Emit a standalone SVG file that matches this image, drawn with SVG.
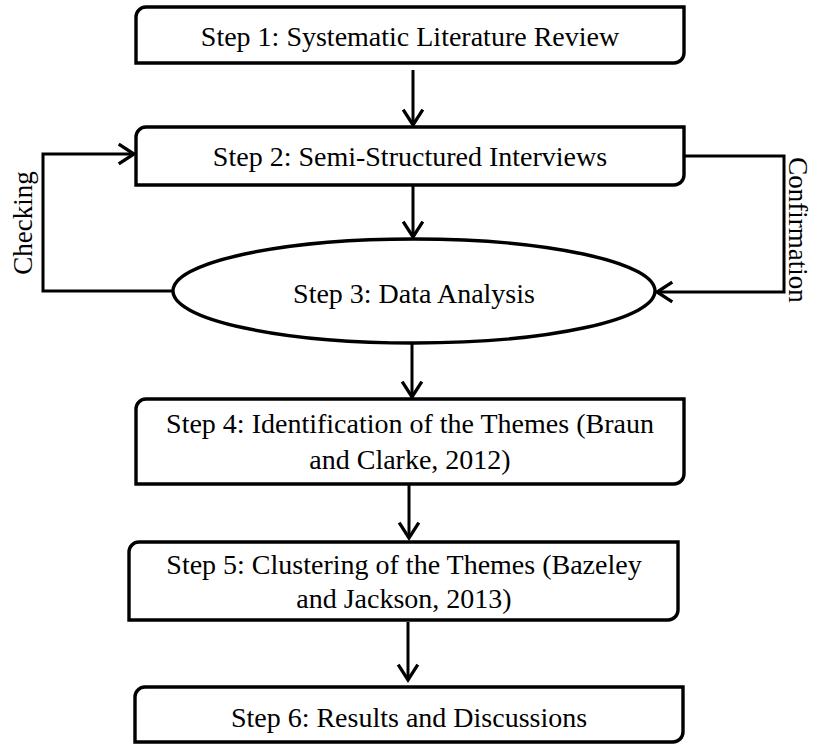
<svg xmlns="http://www.w3.org/2000/svg" width="814" height="744" viewBox="0 0 814 744">
<style>
.box{fill:#fff;stroke:#000;stroke-width:3.4}
.t{font-family:"Liberation Serif","Times New Roman",serif;font-size:28px;fill:#000;text-anchor:middle}
.s{font-family:"Liberation Serif","Times New Roman",serif;font-size:27px;fill:#000;text-anchor:middle}
.c{fill:none;stroke:#000;stroke-width:3}
</style>
<defs>
<marker id="ah" markerUnits="userSpaceOnUse" markerWidth="20" markerHeight="24" viewBox="-16 -11 18 22" refX="0" refY="0" orient="auto" overflow="visible">
<path d="M-14,-9 L0,0 L-14,9" fill="none" stroke="#000" stroke-width="3"/>
</marker>
</defs>
<rect width="814" height="744" fill="#fff"/>
<g id="connectors">
<line class="c" x1="413" y1="70" x2="413" y2="125" marker-end="url(#ah)"/>
<line class="c" x1="413" y1="186" x2="413" y2="237" marker-end="url(#ah)"/>
<line class="c" x1="412" y1="344" x2="412" y2="397" marker-end="url(#ah)"/>
<line class="c" x1="409" y1="485" x2="409" y2="538" marker-end="url(#ah)"/>
<line class="c" x1="408" y1="622" x2="408" y2="680" marker-end="url(#ah)"/>
<polyline class="c" points="173,291 43,291 43,154 134,154" marker-end="url(#ah)"/>
<polyline class="c" points="684,156 784,156 784,292 657,292" marker-end="url(#ah)"/>
</g>
<g id="label-checking"><text class="s" transform="translate(32,223) rotate(-90)">Checking</text></g>
<g id="label-confirmation"><text class="s" transform="translate(789,230) rotate(90)">Confirmation</text></g>
<g id="step1">
<path class="box" d="M136,17 A10,10 0 0 1 146,7 H684 V53 A10,10 0 0 1 674,63 H136 Z"/>
<text class="t" x="410" y="46">Step 1: Systematic Literature Review</text>
</g>
<g id="step2">
<path class="box" d="M136,137 A10,10 0 0 1 146,127 H684 V175 A10,10 0 0 1 674,185 H136 Z"/>
<text class="t" x="410" y="166">Step 2: Semi-Structured Interviews</text>
</g>
<g id="step3">
<ellipse class="box" cx="414" cy="291" rx="241" ry="52"/>
<text class="t" x="414" y="303">Step 3: Data Analysis</text>
</g>
<g id="step4">
<path class="box" d="M136,409 A10,10 0 0 1 146,399 H684 V474 A10,10 0 0 1 674,484 H136 Z"/>
<text class="t" x="410" y="433">Step 4: Identification of the Themes (Braun</text>
<text class="t" x="410" y="469">and Clarke, 2012)</text>
</g>
<g id="step5">
<path class="box" d="M129,552 A10,10 0 0 1 139,542 H678 V610 A10,10 0 0 1 668,620 H129 Z"/>
<text class="t" x="404" y="574">Step 5: Clustering of the Themes (Bazeley</text>
<text class="t" x="404" y="608">and Jackson, 2013)</text>
</g>
<g id="step6">
<path class="box" d="M135,697 A10,10 0 0 1 145,687 H683 V732 A10,10 0 0 1 673,742 H135 Z"/>
<text class="t" x="409" y="727">Step 6: Results and Discussions</text>
</g>
</svg>
